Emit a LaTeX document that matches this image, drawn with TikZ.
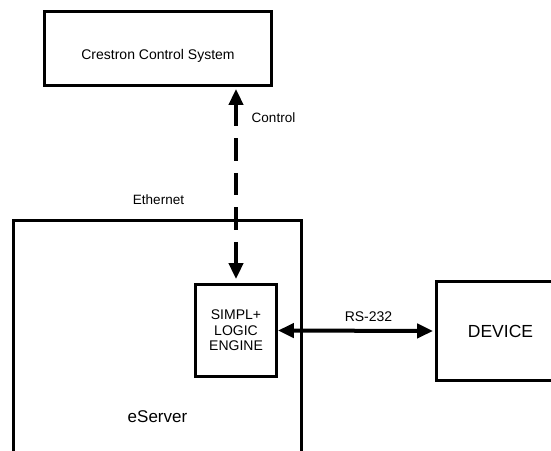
\documentclass[tikz,border=0pt]{standalone}
\usepackage{fontspec}
\setmainfont{Liberation Sans}
\usetikzlibrary{arrows.meta}
\begin{document}
\begin{tikzpicture}[x=1pt,y=-1pt,
  box/.style={draw=black, line width=2.8pt, fill=none, inner sep=0pt, align=center},
  conn/.style={line width=4pt, {Triangle[length=16pt,width=14pt]}-{Triangle[length=16pt,width=14pt]}},
  lbl/.style={inner sep=0pt, font=\fontsize{13.5}{15}\selectfont}
]
\useasboundingbox (0,0) rectangle (551,450);
\clip (0,0) rectangle (551,450);
\fill[white] (0,0) rectangle (551,450);
% eServer (extends below the frame)
\node[box, minimum width=288pt, minimum height=393pt, font=\fontsize{17}{19}\selectfont] (eserver) at (157.5,417) {eServer};
% Crestron Control System
\node[box, minimum width=227pt, minimum height=74pt, text height=21pt, text depth=0pt, font=\fontsize{14}{16}\selectfont] (crestron) at (158,48.5) {Crestron Control System};
% SIMPL+ logic engine
\node[box, fill=white, minimum width=81pt, minimum height=92pt, font=\fontsize{14}{15.5}\selectfont] (simpl) at (236,330.5) {SIMPL+\\LOGIC\\ENGINE};
% Device (extends beyond right edge)
\node[box, minimum width=128pt, minimum height=99pt, font=\fontsize{17.5}{19}\selectfont] (device) at (500.5,331) {DEVICE};
% connectors
\draw[conn, dash pattern=on 22.5pt off 12pt, shorten <=2pt, shorten >=4pt] (simpl.north |- crestron.south) -- (simpl.north);
\draw[conn, shorten >=2pt] (simpl.east) -- (device.west);
% labels
\node[lbl] (control) at (273.5,118) {Control};
\node[lbl] (ethernet) at (158.5,200) {Ethernet};
\node[lbl, font=\fontsize{14}{16}\selectfont] (rs) at (368.5,317) {RS-232};
\end{tikzpicture}
\end{document}
